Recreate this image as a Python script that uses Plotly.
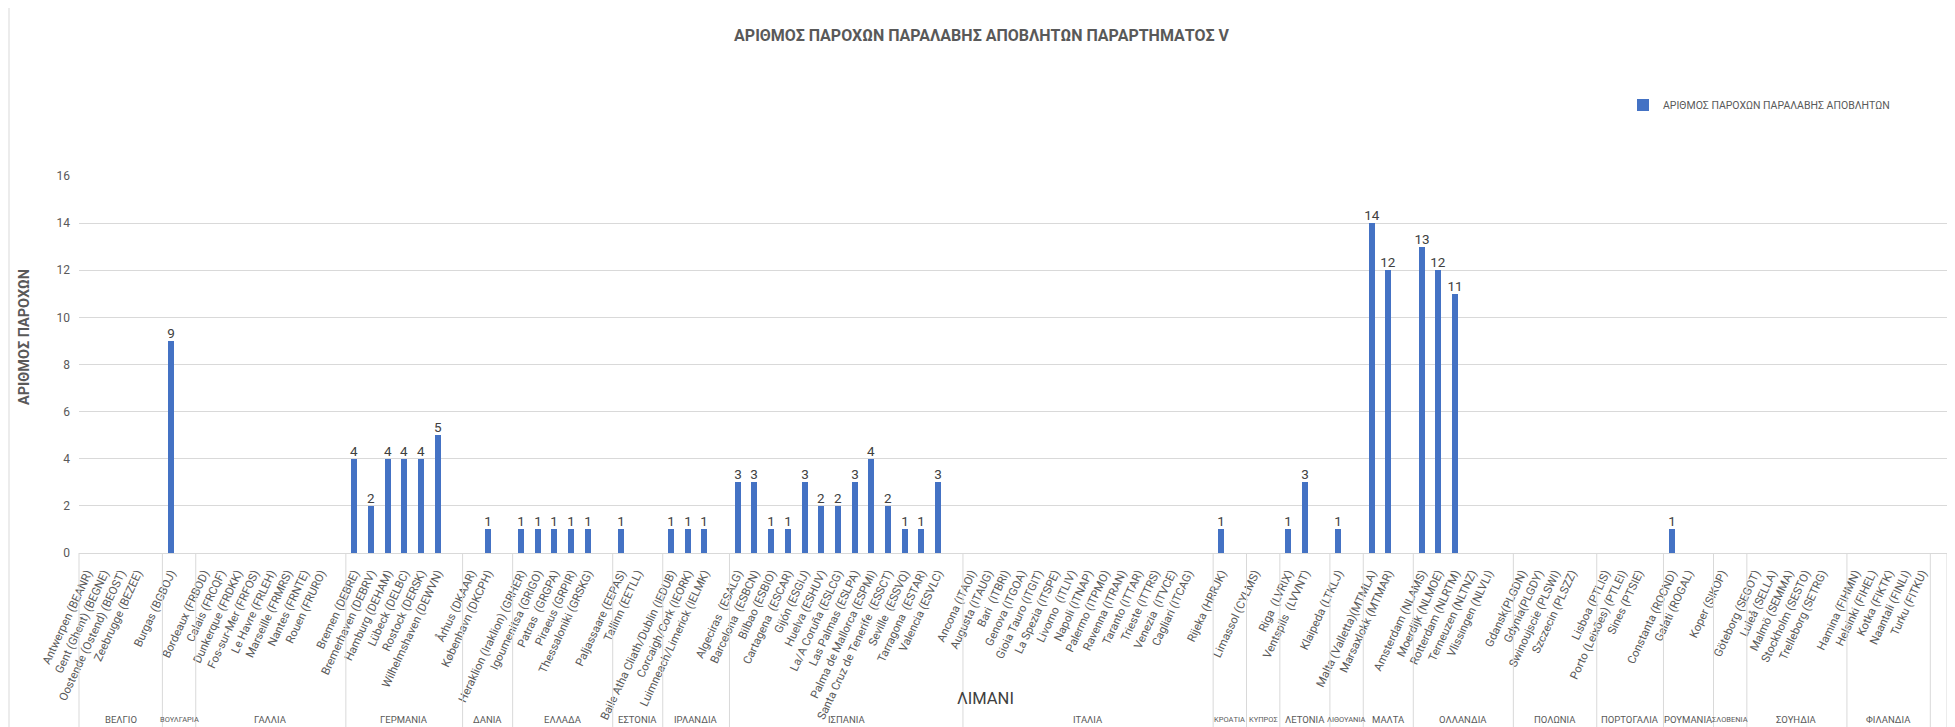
import plotly.graph_objects as go

# ---------------- data ----------------
title_text = "ΑΡΙΘΜΟΣ ΠΑΡΟΧΩΝ ΠΑΡΑΛΑΒΗΣ ΑΠΟΒΛΗΤΩΝ ΠΑΡΑΡΤΗΜΑΤΟΣ V"
series_name = "ΑΡΙΘΜΟΣ ΠΑΡΟΧΩΝ ΠΑΡΑΛΑΒΗΣ ΑΠΟΒΛΗΤΩΝ"
y_title = "ΑΡΙΘΜΟΣ ΠΑΡΟΧΩΝ"
x_title = "ΛΙΜΑΝΙ"

ports = [
    "Antwerpen (BEANR)", "Gent (Ghent) (BEGNE)", "Oostende (Ostend) (BEOST)", "Zeebrugge (BEZEE)", "",
    "Burgas (BGBOJ)", "",
    "Bordeaux (FRBOD)", "Calais (FRCQF)", "Dunkerque (FRDKK)", "Fos-sur-Mer (FRFOS)", "Le Havre (FRLEH)",
    "Marseille (FRMRS)", "Nantes (FRNTE)", "Rouen (FRURO)", "",
    "Bremen (DEBRE)", "Bremerhaven (DEBRV)", "Hamburg (DEHAM)", "Lübeck (DELBC)", "Rostock (DERSK)",
    "Wilhelmshaven (DEWVN)", "",
    "Århus (DKAAR)", "København (DKCPH)", "",
    "Heraklion (Iraklion) (GRHER)", "Igoumenitsa (GRIGO)", "Patras  (GRGPA)", "Piraeus (GRPIR)",
    "Thessaloniki (GRSKG)", "",
    "Paljassaare (EEPAS)", "Tallinn (EETLL)", "",
    "Baile Atha Cliath/Dublin (IEDUB)", "Corcaigh/Cork (IEORK)", "Luimneach/Limerick (IELMK)", "",
    "Algeciras  (ESALG)", "Barcelona  (ESBCN)", "Bilbao (ESBIO)", "Cartagena  (ESCAR)", "Gijón (ESGIJ)",
    "Huelva (ESHUV)", "La/A Coruña (ESLCG)", "Las Palmas (ESLPA)", "Palma de Mallorca (ESPMI)",
    "Santa Cruz de Tenerife  (ESSCT)", "Seville  (ESSVQ)", "Tarragona  (ESTAR)", "Valencia (ESVLC)", "",
    "Ancona (ITAOI)", "Augusta (ITAUG)", "Bari  (ITBRI)", "Genova (ITGOA)", "Gioia Tauro (ITGIT)",
    "La Spezia (ITSPE)", "Livorno  (ITLIV)", "Napoli (ITNAP)", "Palermo (ITPMO)", "Ravenna (ITRAN)",
    "Taranto (ITTAR)", "Trieste (ITTRS)", "Venezia  (ITVCE)", "Cagliari (ITCAG)", "",
    "Rijeka (HRRJK)", "",
    "Limassol (CYLMS)", "",
    "Riga  (LVRIX)", "Ventspils  (LVVNT)", "",
    "Klaipeda (LTKLJ)", "",
    "Malta (Valletta)(MTMLA)", "Marsaxlokk (MTMAR)", "",
    "Amsterdam (NLAMS)", "Moerdijk (NLMOE)", "Rotterdam (NLRTM)", "Terneuzen (NLTNZ)", "Vlissingen (NLVLI)", "",
    "Gdansk(PLGDN)", "Gdynia(PLGDY)", "Swinoujscie (PLSWI)", "Szczecin (PLSZZ)", "",
    "Lisboa (PTLIS)", "Porto (Leixões) (PTLEI)", "Sines (PTSIE)", "",
    "Constanta (ROCND)", "Galati (ROGAL)", "",
    "Koper (SIKOP)", "",
    "Göteborg (SEGOT)", "Luleå (SELLA)", "Malmö (SEMMA)", "Stockholm (SESTO)", "Trelleborg (SETRG)", "",
    "Hamina (FIHMN)", "Helsinki (FIHEL)", "Kotka (FIKTK)", "Naantali (FINLI)", "Turku (FITKU)",
    "",
]

port_country = (
    ["ΒΕΛΓΙΟ"] * 5 + ["ΒΟΥΛΓΑΡΙΑ"] * 2 + ["ΓΑΛΛΙΑ"] * 9 + ["ΓΕΡΜΑΝΙΑ"] * 7 + ["ΔΑΝΙΑ"] * 3
    + ["ΕΛΛΑΔΑ"] * 6 + ["ΕΣΤΟΝΙΑ"] * 3 + ["ΙΡΛΑΝΔΙΑ"] * 4 + ["ΙΣΠΑΝΙΑ"] * 14 + ["ΙΤΑΛΙΑ"] * 15
    + ["ΚΡΟΑΤΙΑ"] * 2 + ["ΚΥΠΡΟΣ"] * 2 + ["ΛΕΤΟΝΙΑ"] * 3 + ["ΛΙΘΟΥΑΝΙΑ"] * 2 + ["ΜΑΛΤΑ"] * 3
    + ["ΟΛΛΑΝΔΙΑ"] * 6 + ["ΠΟΛΩΝΙΑ"] * 5 + ["ΠΟΡΤΟΓΑΛΙΑ"] * 4 + ["ΡΟΥΜΑΝΙΑ"] * 3 + ["ΣΛΟΒΕΝΙΑ"] * 2
    + ["ΣΟΥΗΔΙΑ"] * 6 + ["ΦΙΛΑΝΔΙΑ"] * 5 + [""]
)

services = [
    0, 0, 0, 0, 0,
    9, 0,
    0, 0, 0, 0, 0, 0, 0, 0, 0,
    4, 2, 4, 4, 4, 5, 0,
    0, 1, 0,
    1, 1, 1, 1, 1, 0,
    1, 0, 0,
    1, 1, 1, 0,
    3, 3, 1, 1, 3, 2, 2, 3, 4, 2, 1, 1, 3, 0,
    0, 0, 0, 0, 0, 0, 0, 0, 0, 0, 0, 0, 0, 0, 0,
    1, 0,
    0, 0,
    1, 3, 0,
    1, 0,
    14, 12, 0,
    13, 12, 11, 0, 0, 0,
    0, 0, 0, 0, 0,
    0, 0, 0, 0,
    1, 0, 0,
    0, 0,
    0, 0, 0, 0, 0, 0,
    0, 0, 0, 0, 0,
    0,
]

y_ticks = [0, 2, 4, 6, 8, 10, 12, 14, 16]

# ---------------- figure ----------------
OFF = 8                      # page body margin offset
W, H = 1955 - OFF, 727 - OFF
ML = 79 - OFF
MR = W - (1947 - OFF)
MT = 176 - OFF
MB = H - (553 - OFF)
PW = W - ML - MR
PH = H - MT - MB
GRID = "#d9d9d9"
TXT = "#595959"
FONT = "Roboto"

n = len(ports)
xs = list(range(n))
x_lo, x_hi = -0.5, n - 0.5


def xp(v):
    return (v - x_lo) / (x_hi - x_lo)


def px_x(p):   # screen pixel -> paper
    return (p - OFF - ML) / PW


def px_y(p):
    return (H - MB - (p - OFF)) / PH


fig = go.Figure()
fig.add_trace(go.Bar(
    x=xs, y=services, name=series_name,
    marker=dict(color="#4472C4", line=dict(width=0)),
    width=0.36,
    text=[str(v) if v else "" for v in services],
    textposition="outside", cliponaxis=False, constraintext="none",
    textfont=dict(family=FONT, size=13.5, color="#404040"),
    showlegend=True,
))

shapes = []
annotations = []

groups = []
start = 0
for i in range(1, n + 1):
    if i == n or port_country[i] != port_country[start]:
        groups.append((port_country[start], start, i - 1))
        start = i

y_bottom = px_y(735)
for name, a, b in groups:
    shapes.append(dict(type="line", xref="paper", yref="paper",
                       x0=xp(a - 0.5), x1=xp(a - 0.5), y0=0, y1=y_bottom,
                       line=dict(color=GRID, width=1)))
    if name:
        fs = 9.5 if (b - a + 1) >= 3 else 7.5
        annotations.append(dict(text=name, xref="paper", yref="paper",
                                x=xp((a + b) / 2), y=px_y(719), showarrow=False,
                                xanchor="center", yanchor="middle", borderpad=0,
                                font=dict(family=FONT, size=fs, color=TXT)))
shapes.append(dict(type="line", xref="paper", yref="paper",
                   x0=1, x1=1, y0=0, y1=y_bottom, line=dict(color=GRID, width=1)))

# chart border
shapes.append(dict(type="rect", xref="paper", yref="paper",
                   x0=px_x(9), x1=px_x(1950), y0=px_y(745), y1=px_y(7),
                   line=dict(color=GRID, width=1), layer="below"))

annotations.append(dict(text="<b>" + y_title + "</b>", xref="paper", yref="paper",
                        x=px_x(24), y=px_y(337), textangle=-90, showarrow=False,
                        xanchor="center", yanchor="middle",
                        font=dict(family=FONT, size=14.5, color=TXT)))
annotations.append(dict(text=x_title, xref="paper", yref="paper",
                        x=px_x(985), y=px_y(698), showarrow=False,
                        xanchor="center", yanchor="middle",
                        font=dict(family=FONT, size=16.5, color="#404040")))

tick_idx = [i for i, p in enumerate(ports) if p]
fig.update_layout(
    width=W, height=H,
    margin=dict(l=ML, r=MR, t=MT, b=MB, autoexpand=False),
    paper_bgcolor="white", plot_bgcolor="white",
    font=dict(family=FONT, color=TXT),
    title=dict(text="<b>" + title_text + "</b>", x=0.5, xanchor="center",
               y=1 - (35 - OFF) / H, yanchor="middle", yref="container",
               font=dict(family=FONT, size=16, color=TXT)),
    legend=dict(x=px_x(1623), y=px_y(105), xanchor="left", yanchor="middle",
                font=dict(family=FONT, size=10.5, color=TXT), bgcolor="rgba(0,0,0,0)"),
    xaxis=dict(range=[x_lo, x_hi], tickmode="array", tickvals=tick_idx,
               ticktext=[ports[i] for i in tick_idx], tickangle=-65,
               tickfont=dict(family=FONT, size=11.5, color=TXT),
               showgrid=False, zeroline=False, showline=True, linecolor=GRID,
               linewidth=1, ticks="", ticklabelstandoff=8),
    yaxis=dict(range=[0, 16], tickmode="array", tickvals=y_ticks,
               tickfont=dict(family=FONT, size=12, color=TXT),
               showgrid=True, gridcolor=GRID, gridwidth=1, zeroline=False,
               showline=False, ticks="", ticklabelstandoff=8),
    shapes=shapes, annotations=annotations,
    bargap=0,
)

fig.write_html("out.html")
